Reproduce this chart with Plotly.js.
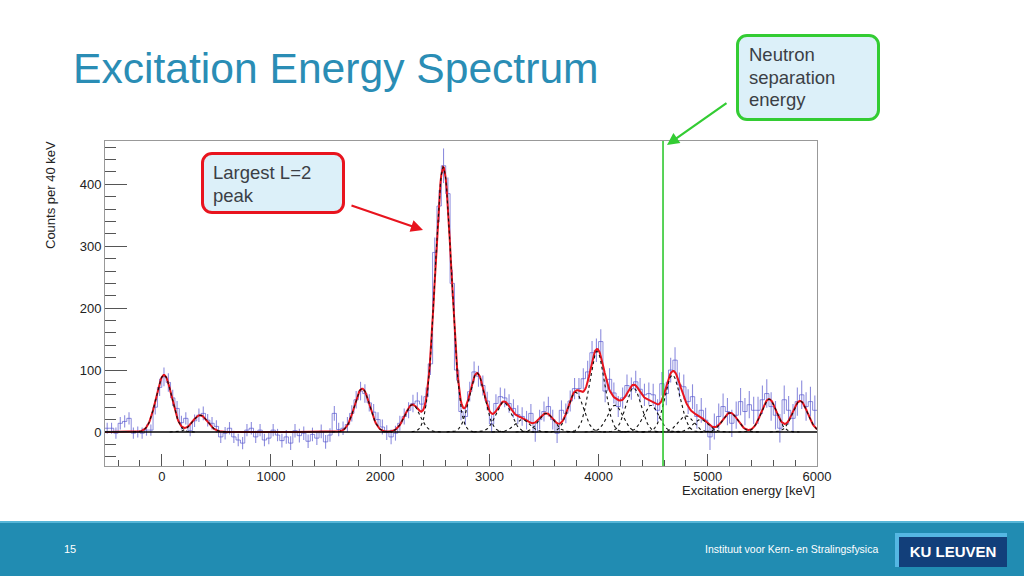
<!DOCTYPE html>
<html>
<head>
<meta charset="utf-8">
<script src="https://cdn.plot.ly/plotly-3.0.1.min.js"></script>
<style>
  body { margin: 0; width: 1024px; height: 576px; overflow: hidden; background: #fff;
         font-family: "Liberation Sans", Arial, sans-serif; }
  #chart { position: absolute; left: 0; top: 0; width: 1024px; height: 576px; }
  .title { position: absolute; left: 73px; top: 47px; font-size: 42.6px; line-height: 1;
           color: #2a8db5; white-space: nowrap; }
  .callout { position: absolute; box-sizing: border-box; border-radius: 11px;
             background: #dcf0f9; color: #3b3f45; font-size: 18.5px; line-height: 22.5px;
             padding-left: 9px; }
  #footer { position: absolute; left: 0; top: 521px; width: 1024px; height: 55px;
            background: #218cb2; border-top: 2px solid #56b6d8; box-sizing: border-box; color: #fff; }
  #logo { position: absolute; left: 895px; top: 533px; width: 112px; height: 34px; box-sizing: border-box;
          background: #123f7a; border-left: 4px solid #55b7e3; border-top: 4px solid #55b7e3;
          color: #fff; font-weight: bold; font-size: 15px; text-align: center; line-height: 29px; }
</style>
</head>
<body>
<div id="chart"></div>
<div class="title">Excitation Energy Spectrum</div>
<div class="callout" style="left:201px; top:152px; width:144px; height:62px; border:3px solid #e8141e; padding-top:7px;">Largest L=2<br>peak</div>
<div class="callout" style="left:736px; top:34px; width:144px; height:87px; border:3px solid #33cc33; padding-top:7px; padding-left:10px;">Neutron<br>separation<br>energy</div>
<div id="footer">
  <span style="position:absolute; left:64px; top:20px; font-size:11px;">15</span>
  <span style="position:absolute; right:146px; top:20px; font-size:11px; display:inline-block; transform:scaleX(0.95); transform-origin:right center; white-space:nowrap;">Instituut voor Kern- en Stralingsfysica</span>
</div>
<div id="logo">KU LEUVEN</div>
<script>
// histogram: 40 keV bins starting at -520 keV
const binLo = -520, binW = 40;
const counts = [
  6, 6, -2, 14, 17, 22, -2, 0, -2, 3,            // -500 .. -140
  3, 40, 72, 89, 80, 55, 38, 15, 22, 2,          // -100 .. 260
  18, 27, 30, 19, 14, 9, -8, -2, 6, -8,          // 300 .. 660
  -13, -18, 3, 6, -8, 3, -13, -10, 3, -5,        // 700 .. 1060
  -14, -8, -18, 2, -6, -2, -15, -4, -10, 1,      // 1100 .. 1460
  -16, -5, 30, 4, 6, 12, 30, 52, 66, 62,         // 1500 .. 1860
  47, 32, 20, 8, -1, -8, -2, 14, 25, 35,         // 1900 .. 2260
  46, 50, 45, 57, 110, 290, 365, 430, 385, 240,  // 2300 .. 2660
  100, 33, 25, 65, 97, 90, 75, 50, 13, 46,       // 2700 .. 3060
  57, 55, 46, 38, 28, 25, 19, 30, 0, 20,         // 3100 .. 3460
  33, 41, 20, -2, 35, 30, 50, 70, 70, 86,        // 3500 .. 3860
  97, 128, 132, 146, 66, 85, 63, 41, 55, 75,     // 3900 .. 4260
  70, 81, 69, 60, 62, 60, 35, 78, 62, 100,       // 4300 .. 4660
  116, 76, 73, 49, 57, 25, 35, 19, -8, 9,        // 4700 .. 5060
  25, 41, 33, 14, 27, 49, 33, 44, 35, 35,        // 5100 .. 5460
  52, 62, 41, 27, 6, 52, 35, 22, 49, 60,         // 5500 .. 5860
  41, 49, 35                                     // 5900 .. 5980
];
const errs = [
  9, 9, 9, 10, 10, 10, 9, 9, 9, 9,
  9, 12, 14, 15, 15, 13, 12, 11, 10, 9,
  10, 11, 11, 10, 10, 10, 10, 10, 10, 10,
  10, 10, 10, 10, 10, 10, 10, 10, 10, 10,
  11, 11, 11, 11, 11, 11, 11, 11, 11, 11,
  11, 11, 12, 11, 11, 12, 13, 14, 15, 15,
  14, 13, 12, 12, 12, 12, 12, 12, 13, 13,
  14, 14, 14, 15, 18, 24, 26, 28, 26, 22,
  17, 14, 14, 16, 17, 17, 16, 15, 14, 15,
  15, 15, 15, 15, 15, 15, 15, 15, 16, 16,
  16, 16, 16, 16, 16, 16, 17, 17, 17, 17,
  18, 19, 19, 20, 18, 18, 17, 17, 17, 18,
  18, 18, 18, 18, 18, 18, 18, 19, 19, 20,
  21, 20, 20, 20, 20, 20, 20, 20, 21, 21,
  21, 21, 22, 22, 22, 22, 22, 22, 22, 22,
  23, 23, 23, 23, 23, 23, 23, 23, 23, 23,
  23, 24, 24
];

// fitted gaussian components (centroid keV, height, sigma keV)
const peakE = [20, 350, 1835, 2295, 2578, 2887, 3130, 3300, 3520, 3790, 3985, 4150, 4320, 4480, 4676, 4800, 4935, 5205, 5560, 5845];
const peakA = [92, 27, 70, 44, 428, 95, 48, 20, 30, 64, 130, 43, 71, 43, 92, 26, 20, 31, 53, 50];
const peakS = [72, 70, 70, 70, 74, 70, 70, 70, 70, 70, 70, 70, 70, 70, 70, 70, 70, 70, 70, 70];

const sepEnergy = 4590;   // neutron separation energy
const xMin = -520, xMax = 6000;

const gauss = (e, k) => peakA[k] * Math.exp(-Math.pow(e - peakE[k], 2) / (2 * peakS[k] * peakS[k]));

// step outline through bin edges
const edges = counts.map((_, i) => binLo + i * binW).concat([binLo + counts.length * binW]);
const stepY = counts.concat([counts[counts.length - 1]]);
const centers = counts.map((_, i) => binLo + (i + 0.5) * binW);

const histCol = 'rgba(80,80,205,0.65)';
const traces = [
  { x: edges, y: stepY, mode: 'lines', line: { shape: 'hv', color: histCol, width: 1 }, hoverinfo: 'skip' },
  { x: centers, y: counts, mode: 'markers', marker: { size: 1, color: 'rgba(0,0,0,0)' },
    error_y: { type: 'data', array: errs, visible: true, color: histCol, thickness: 1.1, width: 0 } }
];

// total fit (sum of components)
const fx = [];
for (let e = xMin; e <= xMax; e += 8) fx.push(e);
traces.push({
  x: fx, y: fx.map(e => peakE.reduce((s, _, k) => s + gauss(e, k), 0)),
  mode: 'lines', line: { color: '#e8141e', width: 2 }
});

// individual components, dotted
peakE.forEach((c, k) => {
  const xs = fx.filter(e => Math.abs(e - c) <= 4 * peakS[k]);
  traces.push({ x: xs, y: xs.map(e => gauss(e, k)), mode: 'lines',
    line: { color: '#111', width: 1.1, dash: 'dot' } });
});

const pxX = px => (px - 105) / 712;
const pxY = py => (466 - py) / 325;
const font = { family: 'Liberation Sans, Arial, sans-serif', size: 13, color: '#222' };

const layout = {
  width: 1024, height: 576,
  margin: { l: 105, r: 207, t: 141, b: 110 },
  paper_bgcolor: 'rgba(0,0,0,0)', plot_bgcolor: '#fff',
  showlegend: false, font: font,
  xaxis: {
    range: [xMin, xMax], tickmode: 'linear', tick0: 0, dtick: 1000,
    ticks: 'inside', ticklen: 12, tickcolor: '#555', tickwidth: 1, ticklabelstandoff: -2,
    minor: { tick0: 0, dtick: 200, ticks: 'inside', ticklen: 6, tickcolor: '#555' },
    showline: true, mirror: true, linecolor: '#999', linewidth: 1,
    showgrid: false, zeroline: false, tickfont: font
  },
  yaxis: {
    range: [-55, 470], tickmode: 'linear', tick0: 0, dtick: 100,
    ticks: 'inside', ticklen: 22, tickcolor: '#555', tickwidth: 1,
    minor: { tick0: 0, dtick: 20, ticks: 'inside', ticklen: 11, tickcolor: '#555' },
    showline: true, mirror: true, linecolor: '#999', linewidth: 1,
    showgrid: false, zeroline: false, tickfont: font
  },
  shapes: [
    { type: 'line', xref: 'paper', x0: 0, x1: 1, yref: 'y', y0: 0, y1: 0,
      line: { color: '#000', width: 1.5 }, layer: 'above' },
    { type: 'line', xref: 'x', x0: sepEnergy, x1: sepEnergy, yref: 'paper', y0: 0, y1: 1,
      line: { color: '#22c422', width: 1.5 }, layer: 'above' }
  ],
  annotations: [
    { text: 'Counts per 40 keV', xref: 'paper', yref: 'paper', x: pxX(50), y: pxY(195),
      xanchor: 'center', yanchor: 'middle', textangle: -90, showarrow: false, font: { ...font, size: 13 } },
    { text: 'Excitation energy [keV]', xref: 'paper', yref: 'paper', x: 1.0, y: pxY(490),
      xanchor: 'right', yanchor: 'middle', showarrow: false, font: font },
    { text: '', xref: 'paper', yref: 'paper', x: pxX(423), y: pxY(230), ax: -73, ay: -25,
      showarrow: true, arrowhead: 2, arrowsize: 1.1, arrowwidth: 2.2, arrowcolor: '#e8141e' },
    { text: '', xref: 'paper', yref: 'paper', x: pxX(667), y: pxY(145), ax: 61, ay: -43,
      showarrow: true, arrowhead: 2, arrowsize: 1.1, arrowwidth: 2.2, arrowcolor: '#33cc33' }
  ]
};

Plotly.newPlot('chart', traces, layout, { staticPlot: true, displayModeBar: false });
</script>
</body>
</html>
